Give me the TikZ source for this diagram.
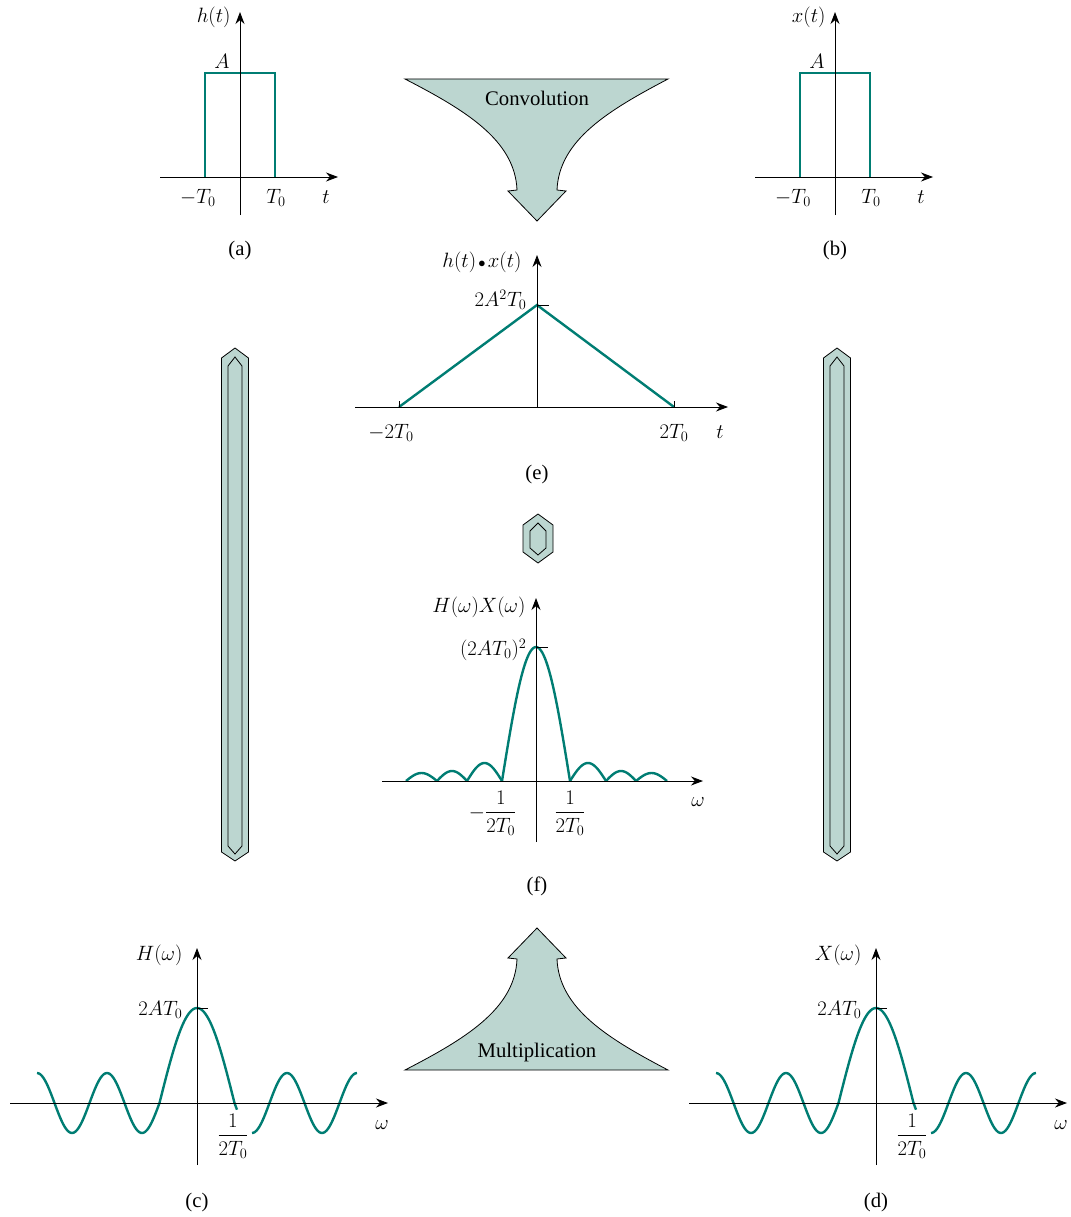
\documentclass[tikz,border=0pt]{standalone}
\usepackage{amsmath}
\usepackage{fontspec}
\setmainfont{Liberation Serif}
\usepackage{tikz}
\usetikzlibrary{arrows.meta}

\definecolor{sigteal}{RGB}{0,125,115}
\definecolor{opfill}{RGB}{188,214,208}

\begin{document}
\begin{tikzpicture}[
        x=1pt, y=-1pt,
        font=\fontsize{20.74}{25}\selectfont,
        axis/.style={-{Stealth[length=12pt, width=9pt]}, line width=0.9pt},
        sig/.style={draw=sigteal, line width=2.4pt},
        tick/.style={line width=0.9pt},
        opshape/.style={draw, line width=0.8pt, fill=opfill},
        barline/.style={draw, line width=0.8pt}
      ]
        \useasboundingbox (0,0) rectangle (1070,1217);

        % (a) and (b): rectangular pulses
        \foreach \sx/\fn/\cp in {0/h/a, 595/x/b}{
          \begin{scope}[xshift=\sx]
            \draw[sig] (205,177) -- (205,73) -- (275,73) -- (275,177);
            \draw[axis] (160,177) -- (338,177);
            \draw[axis] (240,215) -- (240,12);
            \node[anchor=east] (\fn lab) at (234,17) {$\fn(t)$};
            \node (\fn amp) at (222,61) {$A$};
            \node (\fn left) at (198,198) {$-T_0$};
            \node (\fn right) at (276,198) {$T_0$};
            \node (\fn t) at (326,197) {$t$};
            \node (cap\cp) at (240,251) {(\cp)};
          \end{scope}
        }

        % convolution arrow
        \draw[opshape] (405,79) -- (668,79)
          .. controls (609,110) and (559,140) .. (557,190) -- (566,191) -- (537,221)
          -- (508,191) -- (517,190) .. controls (515,140) and (465,110) .. (405,79) -- cycle;
        \node (conv) at (537,98) {Convolution};

        % multiplication arrow
        \draw[opshape] (405,1070) -- (668,1070)
          .. controls (609,1039) and (559,1009) .. (557,959) -- (566,958) -- (537,928)
          -- (508,958) -- (517,959) .. controls (515,1009) and (465,1039) .. (405,1070) -- cycle;
        \node (mult) at (537,1052) {Multiplication};

        % (e) triangle
        \draw[sig] (399,407) -- (537,305) -- (674,407);
        \draw[tick] (399,401) -- (399,407);
        \draw[tick] (674,401) -- (674,407);
        \draw[tick] (537,305) -- (549,305);
        \draw[axis] (355,407) -- (728,407);
        \draw[axis] (537,407) -- (537,255);
        \node[anchor=east] (elab) at (525,262) {$h(t)\mkern2mu{\scriptstyle\bullet}\mkern2mu x(t)$};
        \node[anchor=east] (epeak) at (530,300) {$2A^2T_0$};
        \node (eleft) at (391,433) {$-2T_0$};
        \node (eright) at (674,433) {$2T_0$};
        \node (et) at (720,432) {$t$};
        \node (cape) at (537,475) {(e)};

        % tall bars
        \foreach \bx in {235,837}{
          \begin{scope}[xshift=\bx]
            \draw[opshape] (-13.5,358) -- (0,348) -- (13.5,358) -- (13.5,852) -- (0,861) -- (-13.5,852) -- cycle;
            \draw[barline] (-7,366) -- (0,357) -- (7,366) -- (7,846) -- (0,854) -- (-7,846) -- cycle;
          \end{scope}
        }

        % small hexagon
        \begin{scope}[xshift=538]
          \draw[opshape] (-15,525) -- (0,514) -- (15,525) -- (15,552) -- (0,563) -- (-15,552) -- cycle;
          \draw[barline] (-8,531) -- (0,523) -- (8,531) -- (8,548) -- (0,555) -- (-8,548) -- cycle;
        \end{scope}

        % (f) product spectrum
        \draw[sig] plot[domain=-34:34, samples=50] ({536+\x}, {781-134*cos(90*\x/34)});
        \foreach \a/\b/\h in {467/502/18, 437/467/10, 406/437/8, 570/606/18, 606/636/10, 636/667/8}{
          \draw[sig] plot[domain=\a:\b, samples=25] (\x, {781-\h*sin(180*(\x-\a)/(\b-\a))});
        }
        \draw[tick] (536,647) -- (548,647);
        \draw[axis] (382,781) -- (703,781);
        \draw[axis] (536,842) -- (536,598);
        \node[anchor=east] (flab) at (529,607) {$H(\omega)X(\omega)$};
        \node[anchor=east] (fpeak) at (530,650) {$(2AT_0)^2$};
        \node[anchor=east] (fleft) at (520,813) {$-\dfrac{1}{2T_0}$};
        \node (fright) at (570,813) {$\dfrac{1}{2T_0}$};
        \node (fw) at (698,802) {$\omega$};
        \node (capf) at (537,886) {(f)};

        % (c) and (d): sinc spectra
        \foreach \sx/\fn/\cp in {0/H/c, 679/X/d}{
          \begin{scope}[xshift=\sx]
            \draw[sig] plot[domain=-160:-37.5, samples=80] ({197+\x}, {1103+30*sin(5.142857*(-\x-37.5))})
              -- plot[domain=-37.5:37.5, samples=50] ({197+\x}, {1103-95*cos(2.4*\x)})
              -- plot[domain=37.5:40, samples=4] ({197+\x}, {1103+30*sin(5.142857*(\x-37.5))});
            \draw[sig] plot[domain=55:160, samples=70] ({197+\x}, {1103+30*sin(5.142857*(\x-37.5))});
            \draw[tick] (197,1008) -- (208,1008);
            \draw[axis] (10,1103) -- (388,1103);
            \draw[axis] (197,1165) -- (197,948);
            \node[anchor=east] (\fn lab) at (186,955) {$\fn(\omega)$};
            \node[anchor=east] (\fn peak) at (186,1010) {$2AT_0$};
            \node (\fn zero) at (233,1136) {$\dfrac{1}{2T_0}$};
            \node (\fn w) at (382,1125) {$\omega$};
            \node (cap\cp) at (197,1202) {(\cp)};
          \end{scope}
        }
      \end{tikzpicture}
\end{document}
